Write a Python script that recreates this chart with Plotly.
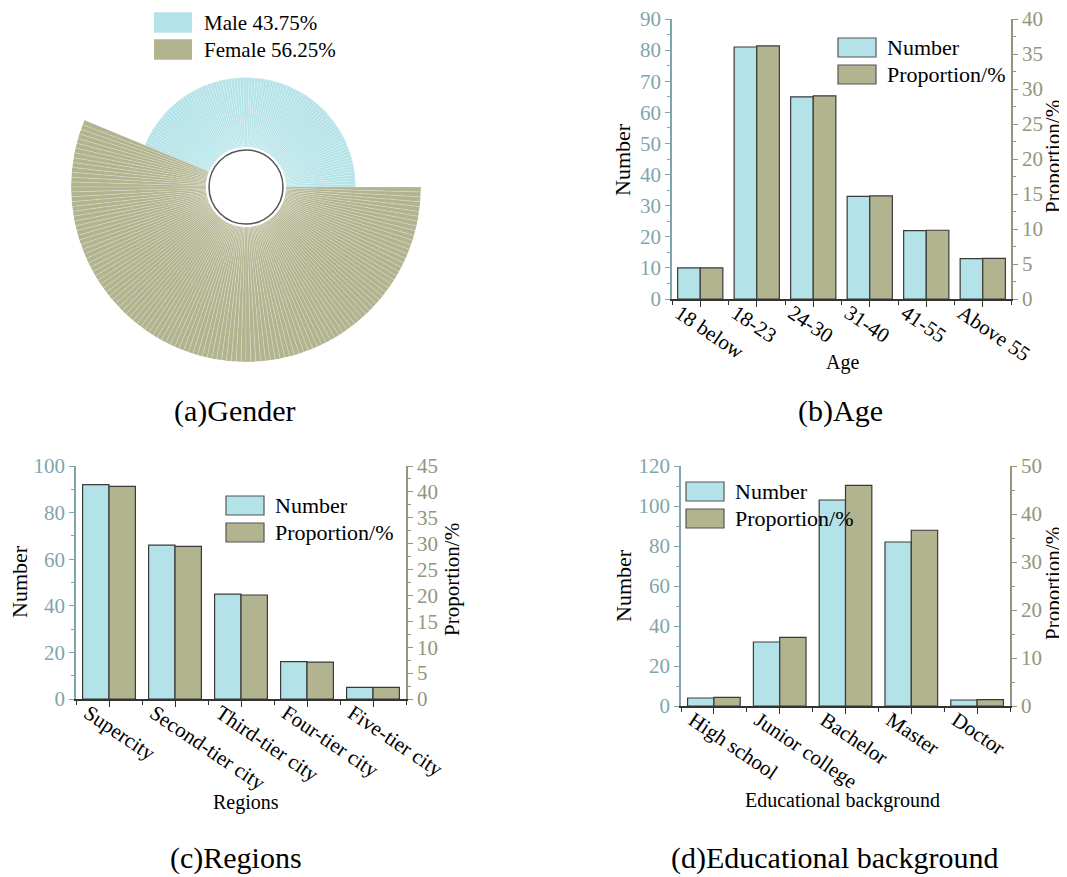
import plotly.graph_objects as go

OFF = 8  # page body margin
W, H = 1067 - OFF, 877 - OFF
FONT = "Liberation Serif"
CYAN = "#B3E3E8"
OLIVE = "#B2B48F"
LEFTC = "#7FA5AD"
RIGHTC = "#94957C"
EDGE = "#3A3A3A"

# ---------------- data ----------------
gender_labels = ["Male", "Female"]
gender_counts = [98, 126]
gender_pct = [43.75, 56.25]

age_cats = ["18 below", "18-23", "24-30", "31-40", "41-55", "Above 55"]
age_num = [10, 81, 65, 33, 22, 13]
age_pct = [4.46, 36.16, 29.02, 14.73, 9.82, 5.80]

reg_cats = ["Supercity", "Second-tier city", "Third-tier city", "Four-tier city", "Five-tier city"]
reg_num = [92, 66, 45, 16, 5]
reg_pct = [41.07, 29.46, 20.09, 7.14, 2.23]

edu_cats = ["High school", "Junior college", "Bachelor", "Master", "Doctor"]
edu_num = [4, 32, 103, 82, 3]
edu_pct = [1.79, 14.29, 45.98, 36.61, 1.34]

captions = ["(a)Gender", "(b)Age", "(c)Regions", "(d)Educational background"]


def px_x(x):
    return (x - OFF) / W


def px_y(y):
    return 1 - (y - OFF) / H


fig = go.Figure()
annotations = []
shapes = []

# ---------------- (a) polar gender chart ----------------
total = sum(gender_counts)
step = 360.0 / total
thetas, rs, cols = [], [], []
idx = 0
for g, n in enumerate(gender_counts):
    for k in range(n):
        thetas.append((idx + 0.5) * step)
        rs.append(gender_pct[g])
        cols.append(CYAN if g == 0 else OLIVE)
        idx += 1
fig.add_trace(go.Barpolar(
    theta=thetas, r=rs, width=[step] * total,
    marker=dict(color=cols, line=dict(color="white", width=0.2)),
    showlegend=False, hoverinfo="skip", subplot="polar"))

cx, cy, R = 246, 187, 175
fig.update_layout(polar=dict(
    domain=dict(x=[px_x(cx - R), px_x(cx + R)], y=[px_y(cy + R), px_y(cy - R)]),
    hole=40 / R, bgcolor="white",
    radialaxis=dict(range=[30.5, 56.25], visible=False, showgrid=False),
    angularaxis=dict(visible=False, showgrid=False, rotation=0, direction="counterclockwise"),
))
rc = 37
shapes.append(dict(type="circle", xref="paper", yref="paper",
                   x0=px_x(cx - rc), x1=px_x(cx + rc), y0=px_y(cy + rc), y1=px_y(cy - rc),
                   line=dict(color="#555555", width=1.5), fillcolor="white"))

# gender legend
for i, (lab, p) in enumerate(zip(gender_labels, gender_pct)):
    y0 = 12.3 + i * 27
    shapes.append(dict(type="rect", xref="paper", yref="paper",
                       x0=px_x(154), x1=px_x(192), y0=px_y(y0 + 20.5), y1=px_y(y0),
                       line=dict(width=0), fillcolor=CYAN if i == 0 else OLIVE))
    annotations.append(dict(text=f"{lab} {p}%", x=px_x(202), y=px_y(y0 + 10.5), xref="paper", yref="paper",
                            xanchor="left", yanchor="middle", showarrow=False,
                            font=dict(family=FONT, size=21, color="black")))

# ---------------- bar panels ----------------
panels = [
    dict(cats=age_cats, num=age_num, pct=age_pct, x=(672, 1011), y=(19, 299), lr=90, ld=10, lm=5,
         rr=40, rd=5, rm=2.5, ax=("x", "y", "y2", "x2"),
         leg=(838, 38), ltitle=(623, 160), rtitle=(1053, 157), xtitle=("Age", 842, 362)),
    dict(cats=reg_cats, num=reg_num, pct=reg_pct, x=(76, 406), y=(466, 699), lr=100, ld=20, lm=10,
         rr=45, rd=5, rm=2.5, ax=("x3", "y3", "y4", "x4"),
         leg=(226, 496), ltitle=(19, 582), rtitle=(452, 580), xtitle=("Regions", 246, 802)),
    dict(cats=edu_cats, num=edu_num, pct=edu_pct, x=(681, 1010), y=(466, 706), lr=120, ld=20, lm=10,
         rr=50, rd=10, rm=5, ax=("x5", "y5", "y6", "x6"),
         leg=(686, 482), ltitle=(623, 586), rtitle=(1053, 584), xtitle=("Educational background", 842, 800)),
]

layout_axes = {}
for P in panels:
    xa, ya, ya2, xtop = P["ax"]
    n = len(P["cats"])
    pos = list(range(n))
    fig.add_trace(go.Bar(x=pos, y=P["num"], width=0.4, offset=-0.4, xaxis=xa, yaxis=ya,
                         marker=dict(color=CYAN, line=dict(color=EDGE, width=1.2)),
                         showlegend=False, hoverinfo="skip"))
    fig.add_trace(go.Bar(x=pos, y=P["pct"], width=0.4, offset=0.0, xaxis=xa, yaxis=ya2,
                         marker=dict(color=OLIVE, line=dict(color=EDGE, width=1.2)),
                         showlegend=False, hoverinfo="skip"))
    xd = [px_x(P["x"][0]), px_x(P["x"][1])]
    yd = [px_y(P["y"][1]), px_y(P["y"][0])]
    xkey = "xaxis" + xa[1:]
    ykey = "yaxis" + ya[1:]
    y2key = "yaxis" + ya2[1:]
    xtkey = "xaxis" + xtop[1:]
    layout_axes[xkey] = dict(
        domain=xd, anchor=ya, automargin=False, range=[-0.5, n - 0.5], tickmode="array", tickvals=pos,
        ticktext=P["cats"], tickangle=34, ticklabelshift=-21, ticklabelstandoff=-14, showline=True,
        linecolor="#333333", linewidth=1.5, ticks="outside", ticklen=6, tickcolor="#333333",
        showgrid=False, zeroline=False, ticklabeloverflow="allow",
        tickfont=dict(family=FONT, size=21, color="black"),
        minor=dict(ticks="outside", tickmode="array", tickvals=[i - 0.5 for i in range(n + 1)],
                   ticklen=4, tickcolor="#333333"))
    layout_axes[xtkey] = dict(
        domain=xd, anchor=ya, overlaying=xa, side="top", automargin=False, range=[-0.5, n - 0.5],
        tickmode="array", tickvals=pos, showticklabels=False, showline=True, linecolor="#333333",
        linewidth=1.5, ticks="inside", ticklen=5, tickcolor="#333333", showgrid=False, zeroline=False,
        minor=dict(ticks="inside", tickmode="array", tickvals=[i - 0.5 for i in range(n + 1)],
                   ticklen=5, tickcolor="#333333"))
    layout_axes[ykey] = dict(
        domain=yd, anchor=xa, automargin=False, range=[0, P["lr"]], dtick=P["ld"], tick0=0, showline=True,
        linecolor=LEFTC, linewidth=1.5, ticks="outside", ticklen=5, tickcolor=LEFTC, showgrid=False,
        zeroline=False, ticklabeloverflow="allow", tickfont=dict(family=FONT, size=21, color=LEFTC),
        minor=dict(ticks="outside", dtick=P["lm"], ticklen=3, tickcolor=LEFTC))
    layout_axes[y2key] = dict(
        domain=yd, anchor=xa, overlaying=ya, side="right", automargin=False, range=[0, P["rr"]],
        dtick=P["rd"], tick0=0, showline=True, linecolor=RIGHTC, linewidth=1.5, ticks="outside", ticklen=5,
        tickcolor=RIGHTC, showgrid=False, zeroline=False, ticklabeloverflow="allow",
        tickfont=dict(family=FONT, size=21, color=RIGHTC),
        minor=dict(ticks="outside", dtick=P["rm"], ticklen=3, tickcolor=RIGHTC))

    # legend
    lx, ly = P["leg"]
    for i, (lab, c) in enumerate([("Number", CYAN), ("Proportion/%", OLIVE)]):
        y0 = ly + i * 27
        shapes.append(dict(type="rect", xref="paper", yref="paper",
                           x0=px_x(lx), x1=px_x(lx + 38), y0=px_y(y0 + 19), y1=px_y(y0),
                           line=dict(color="#555555", width=1.2), fillcolor=c))
        annotations.append(dict(text=lab, x=px_x(lx + 47), y=px_y(y0 + 9.5), xref="paper", yref="paper",
                                xanchor="left", yanchor="middle", showarrow=False,
                                font=dict(family=FONT, size=22, color="black")))
    # axis titles
    annotations.append(dict(text="Number", x=px_x(P["ltitle"][0]), y=px_y(P["ltitle"][1]),
                            xref="paper", yref="paper", textangle=-90, showarrow=False,
                            xanchor="center", yanchor="middle", font=dict(family=FONT, size=22, color="black")))
    annotations.append(dict(text="Proportion/%", x=px_x(P["rtitle"][0]), y=px_y(P["rtitle"][1]),
                            xref="paper", yref="paper", textangle=-90, showarrow=False,
                            xanchor="center", yanchor="middle", font=dict(family=FONT, size=21, color="black")))
    t, tx, ty = P["xtitle"]
    annotations.append(dict(text=t, x=px_x(tx), y=px_y(ty), xref="paper", yref="paper", showarrow=False,
                            xanchor="center", yanchor="middle", font=dict(family=FONT, size=20, color="black")))

# captions
for txt, (x, y) in zip(captions, [(235, 411), (840, 411), (236, 858), (835, 858)]):
    annotations.append(dict(text=txt, x=px_x(x), y=px_y(y), xref="paper", yref="paper", showarrow=False,
                            xanchor="center", yanchor="middle", font=dict(family=FONT, size=30, color="black")))

fig.update_layout(
    width=W, height=H, margin=dict(l=0, r=0, t=0, b=0),
    paper_bgcolor="white", plot_bgcolor="rgba(0,0,0,0)",
    barmode="overlay", showlegend=False,
    annotations=annotations, shapes=shapes,
    font=dict(family=FONT),
    **layout_axes)

fig.write_html("out.html")
